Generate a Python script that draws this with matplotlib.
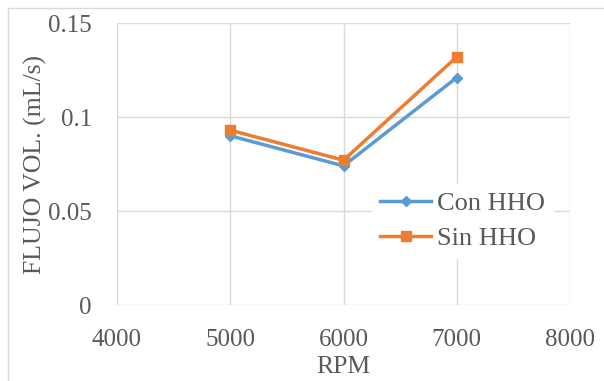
import matplotlib.pyplot as plt
from matplotlib.patches import Rectangle

rpm = [5000, 6000, 7000]
con_hho = [0.090, 0.074, 0.121]
sin_hho = [0.093, 0.077, 0.132]

plt.rcParams['font.family'] = ['Liberation Serif', 'DejaVu Serif']
text_color = '#595959'
grid_color = '#D9D9D9'
fs_tick = 18
fs_label = 18.5
fs_leg = 19

fig = plt.figure(figsize=(6.04, 3.81), dpi=100)
# outer chart border
fig.patches.append(Rectangle((8 / 604, -0.05), 1.1, 1 - 8 / 381 + 0.05,
                             transform=fig.transFigure, fill=False,
                             edgecolor=grid_color, linewidth=1.0))
ax = fig.add_axes([117 / 604, 76 / 381, 453 / 604, 282 / 381])

ax.plot(rpm, con_hho, color='#5B9BD5', linewidth=2.5, marker='D', markersize=5.5,
        label='Con HHO', zorder=3)
ax.plot(rpm, sin_hho, color='#ED7D31', linewidth=2.5, marker='s', markersize=7,
        label='Sin HHO', zorder=3)

ax.set_xlim(4000, 8000)
ax.set_ylim(0, 0.15)
ax.set_xticks([4000, 5000, 6000, 7000, 8000])
ax.set_yticks([0, 0.05, 0.1, 0.15])
ax.set_yticklabels(['0', '0.05', '0.1', '0.15'])
ax.grid(True, color=grid_color, linewidth=1.0)
ax.set_axisbelow(True)
for s in ax.spines.values():
    s.set_visible(False)
ax.tick_params(length=0, labelsize=fs_tick, labelcolor=text_color)
ax.tick_params(axis='y', pad=18)
ax.tick_params(axis='x', pad=17)

ax.set_xlabel('RPM', fontsize=fs_label, color=text_color, labelpad=4)
ax.set_ylabel('FLUJO VOL. (mL/s)', fontsize=fs_label, color=text_color, labelpad=1)

leg = ax.legend(loc='lower left', frameon=True,
                fontsize=fs_leg, handlelength=1.95, handletextpad=0.2,
                labelspacing=0.45, borderpad=0.3, borderaxespad=0)
leg.set_bbox_to_anchor(((372 - 117) / 453, (305 - 257) / 282 - 0.005), transform=ax.transAxes)
leg.get_frame().set_edgecolor('white')
leg.get_frame().set_facecolor('white')
leg.get_frame().set_alpha(1.0)
for t in leg.get_texts():
    t.set_color(text_color)

plt.savefig('out.png', dpi=100)
